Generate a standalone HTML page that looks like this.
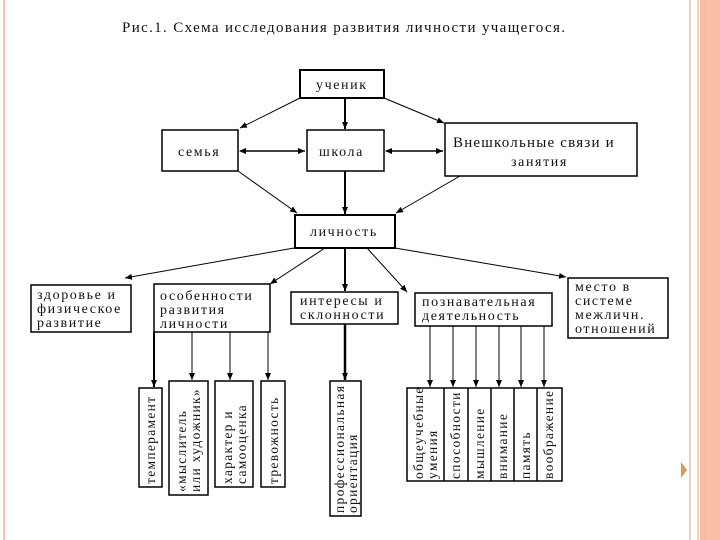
<!DOCTYPE html>
<html><head><meta charset="utf-8"><style>
html,body{margin:0;padding:0;background:#fff;}
svg{display:block;}
text{font-family:"Liberation Serif","DejaVu Serif",serif;fill:#111;}
</style></head><body>
<svg width="720" height="540" viewBox="0 0 720 540" xmlns="http://www.w3.org/2000/svg">
<defs>
<marker id="a" markerWidth="8" markerHeight="8" refX="7" refY="4" orient="auto" markerUnits="userSpaceOnUse"><path d="M0,1 L7,4 L0,7 z" fill="#000"/></marker>
<marker id="b" markerWidth="8" markerHeight="8" refX="1" refY="4" orient="auto" markerUnits="userSpaceOnUse"><path d="M7,1 L0,4 L7,7 z" fill="#000"/></marker>
</defs>
<rect x="3" y="0" width="2" height="540" fill="#f4c4b0"/>
<rect x="689" y="0" width="2" height="540" fill="#efcfc0"/>
<rect x="697" y="0" width="2" height="540" fill="#f6cfbf"/>
<rect x="700" y="0" width="20" height="540" fill="#f9bfa6"/>
<rect x="705" y="0" width="1" height="540" fill="#f3b397"/>
<path d="M681,462 L687,470 L681,478 z" fill="#d79a50"/>
<text x="122" y="32" font-size="15" textLength="443" lengthAdjust="spacing">Рис.1. Схема исследования развития личности учащегося.</text>
<g fill="none" stroke="#000" stroke-width="1.5">
<rect x="300" y="70" width="84" height="28" stroke-width="2"/>
<rect x="162" y="130" width="76" height="41"/>
<rect x="307" y="130" width="77" height="41"/>
<rect x="445" y="123" width="192" height="53"/>
<rect x="295" y="215" width="100" height="33" stroke-width="2"/>
<rect x="31" y="285" width="100" height="47"/>
<rect x="154" y="284" width="116" height="48"/>
<rect x="291" y="292" width="107" height="32"/>
<rect x="415" y="293" width="137" height="33"/>
<rect x="568" y="278" width="100" height="60"/>
<rect x="139" y="388" width="23" height="99"/>
<rect x="169" y="381" width="39" height="114"/>
<rect x="215" y="381" width="38" height="106"/>
<rect x="261" y="381" width="24" height="106"/>
<rect x="330" y="381" width="31" height="135"/>
<rect x="407" y="388" width="155" height="93"/>
<line x1="444" y1="388" x2="444" y2="481"/><line x1="468" y1="388" x2="468" y2="481"/>
<line x1="491" y1="388" x2="491" y2="481"/><line x1="514" y1="388" x2="514" y2="481"/>
<line x1="537" y1="388" x2="537" y2="481"/>
</g>
<g stroke="#000" stroke-width="1" fill="none">
<line x1="300" y1="98" x2="240" y2="128" marker-end="url(#a)"/>
<line x1="345" y1="98" x2="345" y2="129" stroke-width="2" marker-end="url(#a)"/>
<line x1="384" y1="98" x2="444" y2="123" marker-end="url(#a)"/>
<line x1="240" y1="151" x2="305" y2="151" stroke-width="1.5" marker-start="url(#b)" marker-end="url(#a)"/>
<line x1="386" y1="151" x2="443" y2="151" stroke-width="1.5" marker-start="url(#b)" marker-end="url(#a)"/>
<line x1="238" y1="171" x2="297" y2="213" marker-end="url(#a)"/>
<line x1="345" y1="171" x2="345" y2="214" stroke-width="2" marker-end="url(#a)"/>
<line x1="460" y1="176" x2="396" y2="213" marker-end="url(#a)"/>
<line x1="294" y1="248" x2="125" y2="278" marker-end="url(#a)"/>
<line x1="325" y1="248" x2="270" y2="284" marker-end="url(#a)"/>
<line x1="345" y1="248" x2="345" y2="291" stroke-width="2" marker-end="url(#a)"/>
<line x1="367" y1="248" x2="407" y2="292" marker-end="url(#a)"/>
<line x1="395" y1="248" x2="566" y2="277" marker-end="url(#a)"/>
<line x1="154" y1="332" x2="154" y2="387" stroke-width="2" marker-end="url(#a)"/>
<line x1="192" y1="332" x2="192" y2="380" marker-end="url(#a)"/>
<line x1="230" y1="332" x2="230" y2="380" marker-end="url(#a)"/>
<line x1="268" y1="332" x2="268" y2="380" marker-end="url(#a)"/>
<line x1="345" y1="324" x2="345" y2="380" stroke-width="2.5" marker-end="url(#a)"/>
<line x1="430" y1="326" x2="430" y2="387" marker-end="url(#a)"/>
<line x1="453" y1="326" x2="453" y2="387" marker-end="url(#a)"/>
<line x1="476" y1="326" x2="476" y2="387" marker-end="url(#a)"/>
<line x1="499" y1="326" x2="499" y2="387" marker-end="url(#a)"/>
<line x1="521" y1="326" x2="521" y2="387" marker-end="url(#a)"/>
<line x1="544" y1="326" x2="544" y2="387" marker-end="url(#a)"/>
</g>
<g font-size="14" letter-spacing="1.6">
<text x="316" y="89">ученик</text>
<text x="178" y="156">семья</text>
<text x="319" y="156">школа</text>
<text x="453" y="147" font-size="15" letter-spacing="1.2">Внешкольные связи и</text>
<text x="511" y="166">занятия</text>
<text x="310" y="236">личность</text>
<text x="37" y="299">здоровье и</text>
<text x="37" y="313">физическое</text>
<text x="37" y="327">развитие</text>
<text x="160" y="300">особенности</text>
<text x="160" y="314">развития</text>
<text x="160" y="328">личности</text>
<text x="300" y="305">интересы и</text>
<text x="300" y="319">склонности</text>
<text x="422" y="306">познавательная</text>
<text x="422" y="320">деятельность</text>
<text x="575" y="291">место в</text>
<text x="575" y="305">системе</text>
<text x="575" y="319">межличн.</text>
<text x="575" y="333">отношений</text>
</g>
<g font-size="13.5" letter-spacing="1.3">
<text transform="translate(155,484) rotate(-90)">темперамент</text>
<text transform="translate(186,492) rotate(-90)">«мыслитель</text>
<text transform="translate(200,492) rotate(-90)">или художник»</text>
<text transform="translate(232,484) rotate(-90)">характер и</text>
<text transform="translate(246,484) rotate(-90)">самооценка</text>
<text transform="translate(278,484) rotate(-90)">тревожность</text>
<text transform="translate(344,513) rotate(-90)">профессиональная</text>
<text transform="translate(357,513) rotate(-90)">ориентация</text>
<text transform="translate(423,479) rotate(-90)">общеучебные</text>
<text transform="translate(437,479) rotate(-90)">умения</text>
<text transform="translate(460,479) rotate(-90)">способности</text>
<text transform="translate(484,479) rotate(-90)">мышление</text>
<text transform="translate(507,479) rotate(-90)">внимание</text>
<text transform="translate(530,479) rotate(-90)">память</text>
<text transform="translate(553,479) rotate(-90)">воображение</text>
</g>
</svg>
</body></html>
